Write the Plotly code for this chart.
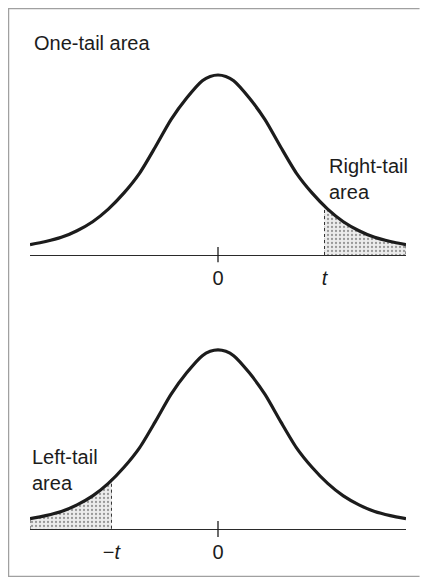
import plotly.graph_objects as go
from plotly.subplots import make_subplots

# Curve values (relative height, peak = 1)
CURVE_X = [-3.0, -2.75, -2.5, -2.25, -2.0, -1.75, -1.5, -1.25, -1.0, -0.75, -0.5, -0.25, -0.125,
           0.0, 0.125, 0.25, 0.5, 0.75, 1.0, 1.25, 1.5, 1.75, 2.0, 2.25, 2.5, 2.75, 3.0]
CURVE_Y = [0.058, 0.075, 0.098, 0.135, 0.185, 0.255, 0.345, 0.455, 0.60, 0.752, 0.872, 0.968, 0.992,
           1.0, 0.992, 0.968, 0.872, 0.752, 0.60, 0.455, 0.345, 0.255, 0.185, 0.135, 0.098, 0.075, 0.058]
T_VALUE = 1.7          # position of t
T_HEIGHT = 0.28        # curve height at t
TOP_TICK_VALS = [0, T_VALUE]
TOP_TICK_TEXT = ["0", "<i>t</i>"]
BOT_TICK_VALS = [-T_VALUE, 0]
BOT_TICK_TEXT = ["\u2212<i>t</i>", "0"]

INK = "#1c1c1c"
FONT = "Liberation Sans, Arial, Helvetica, sans-serif"
STIPPLE = dict(shape=".", fgcolor="#444444", bgcolor="#ececec", size=4, solidity=0.25)

H = 569
def frac(px_from_top):
    return (H - px_from_top) / H

fig = make_subplots(rows=2, cols=1)

# ---- right tail (top panel) ----
rx = [T_VALUE, T_VALUE] + [x for x in CURVE_X if x > T_VALUE] + [CURVE_X[-1]]
ry = [0, T_HEIGHT] + [y for x, y in zip(CURVE_X, CURVE_Y) if x > T_VALUE] + [0]
fig.add_trace(go.Scatter(x=rx, y=ry, mode="lines", fill="toself",
                         fillcolor="#ececec", fillpattern=STIPPLE,
                         line=dict(color="#333333", width=1, dash="dot"),
                         hoverinfo="skip", showlegend=False), row=1, col=1)
fig.add_trace(go.Scatter(x=CURVE_X, y=CURVE_Y, mode="lines",
                         line=dict(color=INK, width=3.2, shape="spline", smoothing=0.7),
                         showlegend=False), row=1, col=1)

# ---- left tail (bottom panel) ----
lx = [CURVE_X[0]] + [x for x in CURVE_X if x < -T_VALUE] + [-T_VALUE, -T_VALUE]
ly = [0] + [y for x, y in zip(CURVE_X, CURVE_Y) if x < -T_VALUE] + [T_HEIGHT, 0]
fig.add_trace(go.Scatter(x=lx, y=ly, mode="lines", fill="toself",
                         fillcolor="#ececec", fillpattern=STIPPLE,
                         line=dict(color="#333333", width=1, dash="dot"),
                         hoverinfo="skip", showlegend=False), row=2, col=1)
fig.add_trace(go.Scatter(x=CURVE_X, y=CURVE_Y, mode="lines",
                         line=dict(color=INK, width=3.2, shape="spline", smoothing=0.7),
                         showlegend=False), row=2, col=1)

axis_common = dict(showgrid=False, showline=False, zeroline=False)
fig.update_xaxes(range=[-3, 3], ticks="", **axis_common,
                 tickfont=dict(family=FONT, size=20, color=INK))
fig.update_xaxes(tickvals=TOP_TICK_VALS, ticktext=TOP_TICK_TEXT, row=1, col=1)
fig.update_xaxes(tickvals=BOT_TICK_VALS, ticktext=BOT_TICK_TEXT, row=2, col=1)
fig.update_yaxes(range=[-0.05, 1.1], showticklabels=False, ticks="", showgrid=False,
                 showline=False, zeroline=True, zerolinecolor="#2a2a2a", zerolinewidth=1.3)
fig.update_layout(
    xaxis=dict(domain=[0, 1]),
    yaxis=dict(domain=[frac(256), frac(49)]),
    xaxis2=dict(domain=[0, 1]),
    yaxis2=dict(domain=[frac(530), frac(324)]),
)

XR = 1.036  # right edge of the figure in paper units
shapes = [
    dict(type="line", xref="x", yref="y", x0=0, x1=0, y0=-0.04, y1=0.045,
         line=dict(color=INK, width=1.3)),
    dict(type="line", xref="x2", yref="y2", x0=0, x1=0, y0=-0.045, y1=0.045,
         line=dict(color=INK, width=1.3)),
    # open frame: top, left and bottom edges only
    dict(type="path", xref="paper", yref="paper",
         path=f"M {XR},{frac(0.5)} L -0.0572,{frac(0.5)} L -0.0572,{frac(H - 0.5)} L {XR},{frac(H - 0.5)}",
         line=dict(color="#a0a0a0", width=1.5), layer="below"),
]

annotations = [
    dict(text="One-tail area", xref="paper", yref="paper", x=0.0053, y=frac(35),
         xanchor="left", yanchor="middle", showarrow=False, align="left",
         font=dict(family=FONT, size=20, color=INK)),
    dict(text="Right-tail<br>area", xref="x", yref="y", x=1.74, y=0.422,
         xanchor="left", yanchor="middle", showarrow=False, align="left",
         font=dict(family=FONT, size=20, color=INK)),
    dict(text="Left-tail<br>area", xref="x2", yref="y2", x=-3.0, y=0.327,
         xanchor="left", yanchor="middle", showarrow=False, align="left",
         font=dict(family=FONT, size=20, color=INK)),
]

fig.update_layout(
    width=412, height=H,
    margin=dict(l=22, r=14, t=0, b=0),
    paper_bgcolor="white", plot_bgcolor="white",
    shapes=shapes, annotations=annotations,
    showlegend=False,
)

fig.write_html("out.html")
